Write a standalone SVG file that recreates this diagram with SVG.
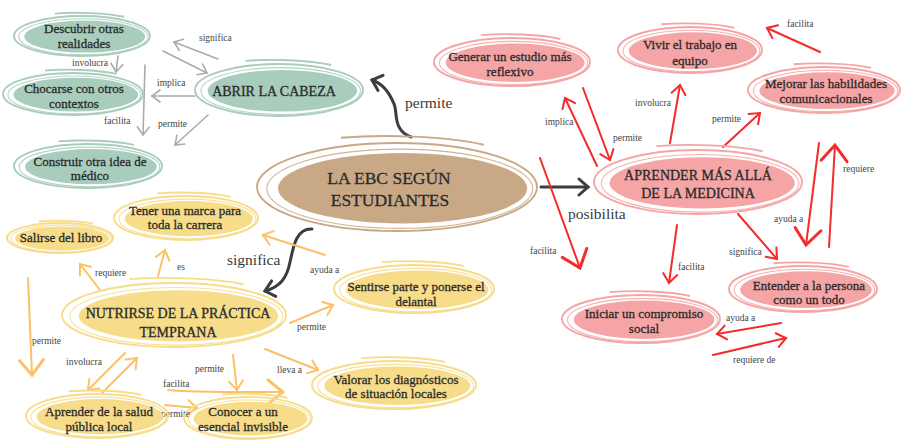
<svg xmlns="http://www.w3.org/2000/svg" xmlns:xlink="http://www.w3.org/1999/xlink" width="910" height="446" viewBox="0 0 910 446">
<style>
.bg{fill:#ffffff}
.rf{fill:currentColor}
.rl{fill:none;stroke:currentColor;stroke-width:1.9;vector-effect:non-scaling-stroke}
.rl2{fill:none;stroke:currentColor;stroke-width:1.1;vector-effect:non-scaling-stroke;opacity:0.85}
.green{color:#a9cdbd}
.tan{color:#c9a886}
.pink{color:#f5a5a5}
.yellow{color:#f7dc8a}
.t{font-family:"Liberation Serif","Times New Roman",serif;font-size:13px;fill:#2b2b2b;stroke:#2b2b2b;stroke-width:0.3;text-anchor:middle}
.tb{font-family:"Liberation Serif","Times New Roman",serif;font-size:14px;fill:#2b2b2b;stroke:#2b2b2b;stroke-width:0.3;text-anchor:middle}
.tc{font-family:"Liberation Serif","Times New Roman",serif;font-size:17.5px;fill:#2b2b2b;stroke:#2b2b2b;stroke-width:0.3;text-anchor:middle}
.lb{font-family:"Liberation Serif","Times New Roman",serif;font-size:9.5px;fill:#444}
.lbig{font-family:"Liberation Serif","Times New Roman",serif;font-size:15.5px;fill:#3a3a3a}
.cg{fill:none;stroke:#ababab;stroke-width:1.6;stroke-linecap:round}
.cr{fill:none;stroke:#f52a2a;stroke-width:2;stroke-linecap:round}
.co{fill:none;stroke:#fcc068;stroke-width:2;stroke-linecap:round}
.cd{fill:none;stroke:#3d3d3d;stroke-width:3;stroke-linecap:round}
</style>
<defs>
<g id="ring">
<ellipse class="rf" cx="0.04" cy="0.03" rx="0.89" ry="0.8"/>
<ellipse class="rl" cx="0" cy="0" rx="1" ry="1"/>
<ellipse class="rl2" cx="0.02" cy="0.04" rx="0.95" ry="0.9"/>
<path class="rl" d="M-0.4,-1.12 C-0.1,-1.2 0.35,-1.16 0.62,-0.96"/>
</g>
<marker id="ag" viewBox="-10 -8 12 16" markerWidth="12" markerHeight="16" refX="0" refY="0" orient="auto" markerUnits="userSpaceOnUse"><path d="M-8,-6 L0,0 L-8,6" fill="none" stroke="#ababab" stroke-width="1.6" stroke-linecap="round"/></marker>
<marker id="ar" viewBox="-12 -9 14 18" markerWidth="14" markerHeight="18" refX="0" refY="0" orient="auto" markerUnits="userSpaceOnUse"><path d="M-9,-7 L0,0 L-9,7" fill="none" stroke="#f52a2a" stroke-width="2" stroke-linecap="round"/></marker>
<marker id="arb" viewBox="-20 -16 22 32" markerWidth="22" markerHeight="32" refX="0" refY="0" orient="auto" markerUnits="userSpaceOnUse"><path d="M-16,-13 L0,0 L-16,13" fill="none" stroke="#f52a2a" stroke-width="3" stroke-linecap="round"/></marker>
<marker id="ao" viewBox="-12 -9 14 18" markerWidth="14" markerHeight="18" refX="0" refY="0" orient="auto" markerUnits="userSpaceOnUse"><path d="M-9,-7 L0,0 L-9,7" fill="none" stroke="#fcc068" stroke-width="2" stroke-linecap="round"/></marker>
<marker id="aob" viewBox="-20 -16 22 32" markerWidth="22" markerHeight="32" refX="0" refY="0" orient="auto" markerUnits="userSpaceOnUse"><path d="M-15,-12 L0,0 L-15,12" fill="none" stroke="#fcc068" stroke-width="3" stroke-linecap="round"/></marker>
<marker id="ad" viewBox="-14 -11 16 22" markerWidth="16" markerHeight="22" refX="0" refY="0" orient="auto" markerUnits="userSpaceOnUse"><path d="M-9,-8 L0,0 L-9,8" fill="none" stroke="#3d3d3d" stroke-width="3" stroke-linecap="round"/></marker>
</defs>
<rect class="bg" x="0" y="0" width="910" height="446"/>

<g id="connectors">
<!-- gray -->
<path class="cg" d="M163,51 L207,73" marker-end="url(#ag)"/>
<path class="cg" d="M218,59 L174,42" marker-end="url(#ag)"/>
<path class="cg" d="M118,56 L116,72" stroke-width="1" marker-end="url(#ag)"/>
<path class="cg" d="M195,96 L152,96" marker-end="url(#ag)"/>
<path class="cg" d="M145,65 L143,135" stroke-width="2.2" marker-end="url(#ag)"/>
<path class="cg" d="M208,115 L175,145" marker-end="url(#ag)"/>
<text class="lb" x="199" y="41">significa</text>
<text class="lb" x="72" y="66">involucra</text>
<text class="lb" x="157" y="86">implica</text>
<text class="lb" x="104" y="124">facilita</text>
<text class="lb" x="158" y="127">permite</text>
<!-- dark -->
<path class="cd" d="M411,137 C392,130 398,112 394,104 C390,94 384,84 372,80" marker-end="url(#ad)"/>
<path class="cd" d="M541,187 L588,187" marker-end="url(#ad)"/>
<path class="cd" d="M312,229 C295,228 293,250 290,262 C287,278 280,287 265,291" marker-end="url(#ad)"/>
<text class="lbig" x="405" y="108">permite</text>
<text class="lbig" x="568" y="219">posibilita</text>
<text class="lbig" x="227" y="265">significa</text>
<!-- red -->
<path class="cr" d="M597,166 L565,98" marker-end="url(#ar)"/>
<path class="cr" d="M583,88 L610,160" marker-end="url(#ar)"/>
<path class="cr" d="M670,143 L680,85" marker-end="url(#ar)"/>
<path class="cr" d="M723,147 L760,113" marker-end="url(#ar)"/>
<path class="cr" d="M820,52 L767,28" marker-end="url(#ar)"/>
<path class="cr" d="M819,143 L806,245" stroke-width="3" marker-end="url(#arb)"/>
<path class="cr" d="M829,247 L835,145" stroke-width="3" marker-end="url(#arb)"/>
<path class="cr" d="M738,214 L777,259" marker-end="url(#ar)"/>
<path class="cr" d="M677,225 L669,283" marker-end="url(#ar)"/>
<path class="cr" d="M540,158 L580,268" stroke-width="3.5" marker-end="url(#arb)"/>
<path class="cr" d="M781,323 L717,334" marker-end="url(#ar)"/>
<path class="cr" d="M713,355 L786,338" marker-end="url(#ar)"/>
<text class="lb" x="545" y="125">implica</text>
<text class="lb" x="613" y="141">permite</text>
<text class="lb" x="635" y="106">involucra</text>
<text class="lb" x="712" y="122">permite</text>
<text class="lb" x="787" y="27">facilita</text>
<text class="lb" x="774" y="222">ayuda a</text>
<text class="lb" x="843" y="172">requiere</text>
<text class="lb" x="729" y="255">significa</text>
<text class="lb" x="678" y="270">facilita</text>
<text class="lb" x="530" y="254">facilita</text>
<text class="lb" x="726" y="321">ayuda a</text>
<text class="lb" x="733" y="363">requiere de</text>
<!-- orange -->
<path class="co" d="M100,290 L80,264" marker-end="url(#ao)"/>
<path class="co" d="M158,276 L165,250" marker-end="url(#ao)"/>
<path class="co" d="M325,255 L263,235" marker-end="url(#ao)"/>
<path class="co" d="M28,278 L32,375" stroke-width="3" marker-end="url(#aob)"/>
<path class="co" d="M125,353 L88,390" marker-end="url(#ao)"/>
<path class="co" d="M102,393 L137,358" marker-end="url(#ao)"/>
<path class="co" d="M233,355 L237,390" marker-end="url(#ao)"/>
<path class="co" d="M168,390 C200,393 250,392 283,392" stroke-width="3.5" marker-end="url(#aob)"/>
<path class="co" d="M165,405 L197,408" marker-end="url(#ao)"/>
<path class="co" d="M290,323 L333,305" marker-end="url(#ao)"/>
<path class="co" d="M265,349 L318,370" marker-end="url(#ao)"/>
<text class="lb" x="95" y="276">requiere</text>
<text class="lb" x="177" y="270">es</text>
<text class="lb" x="310" y="273">ayuda a</text>
<text class="lb" x="32" y="344">permite</text>
<text class="lb" x="66" y="365">involucra</text>
<text class="lb" x="195" y="372">permite</text>
<text class="lb" x="163" y="387">facilita</text>
<text class="lb" x="161" y="417">permite</text>
<text class="lb" x="297" y="330">permite</text>
<text class="lb" x="277" y="373">lleva a</text>
</g>

<g id="n-descubrir" class="green">
<use href="#ring" transform="translate(82,36) scale(68,20)"/>
<text class="t" x="84" y="33">Descubrir otras</text><text class="t" x="84" y="48">realidades</text>
</g>
<g id="n-chocarse" class="green">
<use href="#ring" transform="translate(73,94) scale(70,21)"/>
<text class="t" x="74" y="93">Chocarse con otros</text><text class="t" x="74" y="108">contextos</text>
</g>
<g id="n-construir" class="green">
<use href="#ring" transform="translate(88,166) scale(74,22)"/>
<text class="t" x="90" y="166">Construir otra idea de</text><text class="t" x="90" y="180">médico</text>
</g>
<g id="n-abrir" class="green">
<use href="#ring" transform="translate(279,90) scale(84,26)"/>
<text class="tb" x="274" y="96">ABRIR LA CABEZA</text>
</g>

<g id="n-ebc" class="tan">
<use href="#ring" transform="translate(397,187) scale(140,44)"/>
<text class="tc" x="389" y="184">LA EBC SEGÚN</text><text class="tc" x="390" y="206">ESTUDIANTES</text>
</g>

<g id="n-generar" class="pink">
<use href="#ring" transform="translate(512,62) scale(78,24)"/>
<text class="t" x="510" y="61">Generar un estudio más</text><text class="t" x="510" y="76">reflexivo</text>
</g>
<g id="n-vivir" class="pink">
<use href="#ring" transform="translate(690,50) scale(72,23)"/>
<text class="t" x="690" y="49">Vivir el trabajo en</text><text class="t" x="690" y="65">equipo</text>
</g>
<g id="n-mejorar" class="pink">
<use href="#ring" transform="translate(824,90) scale(76,23)"/>
<text class="t" x="826" y="88">Mejorar las habilidades</text><text class="t" x="826" y="103">comunicacionales</text>
</g>
<g id="n-aprender" class="pink">
<use href="#ring" transform="translate(698,182) scale(104,32)"/>
<text class="tb" x="698" y="180">APRENDER MÁS ALLÁ</text><text class="tb" x="698" y="198">DE LA MEDICINA</text>
</g>
<g id="n-entender" class="pink">
<use href="#ring" transform="translate(803,289) scale(74,23)"/>
<text class="t" x="809" y="290">Entender a la persona</text><text class="t" x="809" y="304">como un todo</text>
</g>
<g id="n-iniciar" class="pink">
<use href="#ring" transform="translate(641,319) scale(79,24)"/>
<text class="t" x="644" y="318">Iniciar un compromiso</text><text class="t" x="644" y="333">social</text>
</g>

<g id="n-tener" class="yellow">
<use href="#ring" transform="translate(186,218) scale(72,22)"/>
<text class="t" x="185" y="215">Tener una marca para</text><text class="t" x="185" y="229">toda la carrera</text>
</g>
<g id="n-salirse" class="yellow">
<use href="#ring" transform="translate(60,238) scale(53,15)"/>
<text class="t" x="61" y="242">Salirse del libro</text>
</g>
<g id="n-nutrirse" class="yellow">
<use href="#ring" transform="translate(174,315) scale(112,32)"/>
<text class="tb" x="178" y="318">NUTRIRSE DE LA PRÁCTICA</text><text class="tb" x="178" y="337">TEMPRANA</text>
</g>
<g id="n-sentirse" class="yellow">
<use href="#ring" transform="translate(414,289) scale(80,24)"/>
<text class="t" x="416" y="291">Sentirse parte y ponerse el</text><text class="t" x="416" y="306">delantal</text>
</g>
<g id="n-valorar" class="yellow">
<use href="#ring" transform="translate(394,385) scale(82,24)"/>
<text class="t" x="396" y="384">Valorar los diagnósticos</text><text class="t" x="396" y="398">de situación locales</text>
</g>
<g id="n-aprender-salud" class="yellow">
<use href="#ring" transform="translate(97,416) scale(71,22)"/>
<text class="t" x="99" y="416">Aprender de la salud</text><text class="t" x="99" y="431">pública local</text>
</g>
<g id="n-conocer" class="yellow">
<use href="#ring" transform="translate(248,418) scale(64,21)"/>
<text class="t" x="243" y="416">Conocer a un</text><text class="t" x="243" y="431">esencial invisible</text>
</g>
</svg>
